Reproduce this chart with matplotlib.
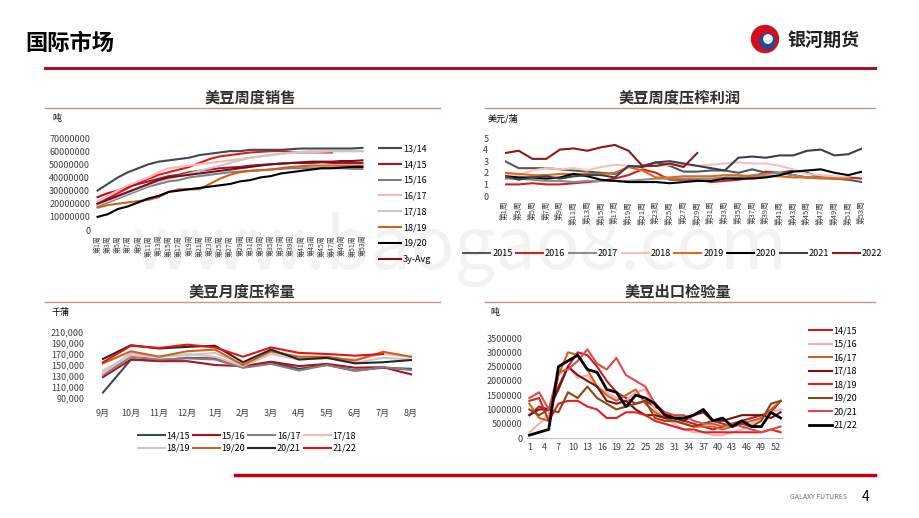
import numpy as np
import matplotlib
matplotlib.use("Agg")
import matplotlib.pyplot as plt
from matplotlib.lines import Line2D
from matplotlib.ticker import FuncFormatter

plt.rcParams["font.family"] = ["Noto Sans CJK SC", "DejaVu Sans"]

# ---- chart 1: weekly sales (cumulative, tonnes), every 2nd week ----
sales_weeks = list(range(1, 54, 2))
sales_labels = ["13/14", "14/15", "15/16", "16/17", "17/18", "18/19", "19/20", "3y-Avg"]
sales_1314 = [30, 35, 40, 44, 47, 50, 52, 53, 54, 55, 57, 58, 59, 60, 60, 61, 61, 61, 61, 61.5, 62, 62, 62, 62, 62, 62, 62.5]
sales_1415 = [25, 28, 30, 33, 35, 37, 39, 41, 42, 44, 45, 46, 47, 47.5, 48, 49, 49.5, 50, 50.5, 51, 51, 51, 51.5, 51, 51, 51, 51]
sales_1516 = [18, 21, 24, 27, 30, 33, 35, 37, 38, 40, 41, 42, 43, 44, 44.5, 45, 45.5, 46, 46.5, 47, 47, 47, 47, 47, 47, 46.5, 46.5]
sales_1617 = [22, 26, 30, 34, 37, 40, 44, 47, 48, 49, 50, 51, 52, 53, 54, 55, 56, 57, 58, 59, 59.5, 60, 60, 60, 60, 60, 60]
sales_1718 = [19, 22, 25, 28, 31, 34, 37, 39, 41, 43, 45, 47, 49, 51, 53, 55, 56, 57, 58, 58.5, 59, 59, 59.5, 60, 60, 60, 60]
sales_1819 = [17, 19, 20, 21, 22, 23, 25, 29, 31, 31, 31, 35, 39, 42, 44, 45, 45.5, 46, 47, 48, 48.5, 49, 49, 49, 49, 49, 49]
sales_1920 = [10, 12, 16, 18, 21, 24, 26, 29, 30, 31, 32, 33, 34, 35, 37, 38, 40, 41, 43, 44, 45, 46, 47, 47, 47.5, 48, 48]
sales_avg = [20, 23, 26, 29, 32, 35, 38, 40, 41, 42, 43, 44, 45, 46, 47, 48, 49, 50, 50.5, 51, 51.5, 52, 52, 52, 52.5, 52.5, 53]
sales_2021 = [20, 24, 28, 32, 36, 39, 42, 44, 46, 48, 51, 54, 56, 57, 58, 59, 59.5, 60, 60, 59.5, 59, 59, 59, 59]
sales_colors = ["#404850", "#B01020", "#808080", "#F4B8B8", "#C8C8C8", "#D06020", "#000000", "#701020"]

# ---- chart 2: weekly crush margin (USD/bu), every 2nd week ----
margin_weeks = list(range(1, 54, 2))
margin_labels = ["2015", "2016", "2017", "2018", "2019", "2020", "2021", "2022"]
m2015 = [3.0, 2.4, 2.4, 2.4, 2.3, 2.2, 2.1, 2.0, 1.9, 2.5, 2.6, 2.9, 2.6, 2.1, 2.1, 2.2, 2.2, 2.0, 2.3, 2.0, 2.0, 2.2, 2.0, 1.6, 1.5, 1.4, 1.2]
m2016 = [1.0, 1.0, 1.1, 1.0, 1.0, 1.1, 1.2, 1.3, 1.5, 1.8, 2.3, 2.0, 1.4, 1.4, 1.4, 1.2, 1.3, 1.4, 1.6, 2.1, 2.0, 1.8, 1.6, 1.6, 1.5, 1.6, 1.5]
m2017 = [1.5, 1.5, 1.4, 1.3, 1.3, 1.2, 1.3, 1.3, 1.3, 1.3, 1.4, 1.5, 1.5, 1.5, 1.5, 1.5, 1.6, 1.6, 1.8, 1.9, 2.0, 1.8, 1.6, 1.6, 1.6, 1.6]
m2018 = [1.8, 1.8, 2.2, 2.4, 2.3, 2.4, 2.2, 2.5, 2.7, 2.6, 2.5, 2.6, 2.7, 2.7, 2.6, 2.7, 2.8, 2.9, 2.8, 2.8, 2.6, 2.3, 1.9, 1.8, 1.7, 1.6]
m2019 = [2.0, 1.9, 1.8, 1.8, 1.9, 1.9, 1.9, 1.9, 2.0, 2.5, 2.2, 1.6, 1.6, 1.7, 1.7, 1.7, 1.8, 1.8, 1.7, 1.7, 1.7, 1.6, 1.6, 1.5, 1.5, 1.5]
m2020 = [1.7, 1.6, 1.6, 1.5, 1.6, 1.9, 1.7, 1.4, 1.3, 1.2, 1.2, 1.2, 1.1, 1.2, 1.3, 1.3, 1.5, 1.5, 1.5, 1.6, 1.8, 2.1, 2.2, 2.3, 2.0, 1.8, 2.1]
m2021 = [1.7, 1.4, 1.6, 1.7, 1.5, 1.7, 1.8, 1.8, 1.6, 2.6, 2.5, 2.9, 3.0, 2.8, 2.6, 2.4, 2.2, 3.3, 3.4, 3.3, 3.5, 3.5, 3.9, 4.0, 3.5, 3.6, 4.1]
m2022 = [3.7, 3.9, 3.2, 3.2, 4.0, 4.1, 3.9, 4.2, 4.4, 3.9, 2.6, 2.6, 2.8, 2.5, 3.7]
margin_colors = ["#505860", "#D42020", "#8C8C8C", "#F6C0C0", "#E06A1A", "#000000", "#3A4048", "#8B1A1A"]

# ---- chart 3: monthly crush (thousand short tons) ----
months = ["9月", "10月", "11月", "12月", "1月", "2月", "3月", "4月", "5月", "6月", "7月", "8月"]
crush_labels = ["14/15", "15/16", "16/17", "17/18", "18/19", "19/20", "20/21", "21/22"]
c1415 = [100, 160, 158, 163, 162, 146, 155, 143, 150, 140, 145, 143]
c1516 = [128, 160, 157, 157, 150, 148, 156, 148, 152, 145, 146, 133]
c1617 = [132, 165, 160, 162, 160, 145, 152, 140, 150, 139, 146, 141]
c1718 = [140, 168, 165, 170, 165, 148, 170, 160, 162, 160, 170, 165]
c1819 = [135, 172, 165, 168, 172, 150, 172, 162, 164, 154, 163, 160]
c1920 = [153, 175, 165, 175, 178, 150, 175, 165, 165, 158, 174, 165]
c2021 = [161, 186, 180, 183, 185, 155, 178, 160, 163, 153, 155, 159]
c2122 = [155, 185, 181, 187, 182, 165, 182, 172, 170, 167, 170]
crush_colors = ["#404850", "#B01020", "#808080", "#F4B8B8", "#C8C8C8", "#D06020", "#252525", "#E81010"]

# ---- chart 4: weekly export inspections (x100000 t), every 2nd week ----
insp_weeks = list(range(1, 54, 2))
insp_labels = ["14/15", "15/16", "16/17", "17/18", "18/19", "19/20", "20/21", "21/22"]
i1415 = [8, 11, 10, 18, 25, 30, 29, 25, 20, 16, 14, 12, 13, 11, 9, 7, 6, 5, 4, 3, 4, 5, 6, 7, 8, 9, 13]
i1516 = [2, 5, 8, 22, 25, 21, 22, 18, 16, 14, 13, 16, 17, 10, 7, 5, 3, 2, 2, 1, 1, 2, 3, 5, 7, 9, 10]
i1617 = [12, 7, 6, 22, 30, 29, 24, 18, 15, 13, 15, 17, 12, 9, 7, 6, 5, 4, 4, 4, 3, 4, 5, 6, 7, 10, 13]
i1718 = [8, 10, 10, 17, 25, 22, 20, 18, 13, 12, 13, 10, 8, 8, 7, 7, 6, 8, 9, 6, 6, 7, 8, 8, 8, 7, 9]
i1819 = [13, 14, 6, 12, 13, 13, 11, 10, 7, 7, 9, 9, 8, 6, 5, 4, 3, 3, 2, 2, 2, 2, 2, 2, 2, 3, 2]
i1920 = [10, 8, 10, 9, 16, 14, 18, 14, 12, 10, 11, 12, 13, 7, 6, 6, 5, 4, 5, 6, 5, 4, 5, 4, 6, 12, 13]
i2021 = [14, 16, 10, 23, 24, 27, 31, 26, 24, 28, 22, 20, 18, 12, 9, 8, 8, 6, 5, 5, 4, 5, 4, 3, 2, 3, 4]
i2122 = [1, 2, 3, 25, 27, 29, 24, 23, 17, 16, 11, 15, 14, 12, 8, 7, 7, 8, 10, 6, 7, 4, 6, 4, 4, 9, 7]
insp_colors = ["#C0202A", "#F4B0B0", "#D06020", "#7A1010", "#E02020", "#8B4513", "#E04848", "#000000"]

TICK = "#404040"
fig = plt.figure(figsize=(9.2, 5.18), dpi=100)
W, H = 920, 518

def ftext(x, y, s, **kw):
    fig.text(x / W, 1 - y / H, s, **kw)

def hline(x0, x1, y, color, lw):
    fig.add_artist(Line2D([x0 / W, x1 / W], [1 - y / H, 1 - y / H], color=color, lw=lw))

# header / frame
ftext(460, 250, "www.baogao8.com", fontsize=52, color="#F2F2F2", ha="center", va="center", zorder=-5)
ftext(25, 44, "国际市场", fontsize=16, fontweight="bold", va="center")
ftext(787, 40, "银河期货", fontsize=13, fontweight="bold", va="center", color="#222222")
logo = fig.add_axes([750 / W, 1 - 54 / H, 30 / W, 30 / H])
logo.add_patch(plt.Circle((0.5, 0.5), 0.45, color="#D01020"))
logo.add_patch(plt.Circle((0.58, 0.42), 0.25, color="#1A4A9A"))
logo.add_patch(plt.Circle((0.6, 0.5), 0.14, color="white"))
logo.set_xlim(0, 1); logo.set_ylim(0, 1); logo.axis("off")
hline(45, 875, 68, "#B01020", 2.2)
hline(235, 875, 475, "#C00010", 2.5)
ftext(790, 497, "GALAXY FUTURES", fontsize=5, color="#707070", va="center")
ftext(862, 497, "4", fontsize=10, va="center")

for x, y, s in [(250, 98, "美豆周度销售"), (680, 98, "美豆周度压榨利润"),
                (242, 292, "美豆月度压榨量"), (678, 292, "美豆出口检验量")]:
    ftext(x, y, s, fontsize=11, fontweight="bold", ha="center", va="center", color="#303030")
for x0, x1, y in [(45, 440, 108), (485, 875, 108), (45, 440, 302), (485, 875, 302)]:
    hline(x0, x1, y, "#C89090", 1.0)
for x, y, s in [(52, 119, "吨"), (488, 119, "美元/蒲"), (52, 312, "千蒲"), (490, 312, "吨")]:
    ftext(x, y, s, fontsize=6.5, va="center")

def clean(ax):
    for s in ax.spines.values():
        s.set_visible(False)
    ax.tick_params(length=0, labelsize=6.5, colors=TICK)
    ax.patch.set_alpha(0)

# chart 1
ax1 = fig.add_axes([95 / W, 1 - 230 / H, 270 / W, 92 / H])
sales = [sales_1314, sales_1415, sales_1516, sales_1617, sales_1718, sales_1819, sales_1920, sales_avg]
ax1.plot(sales_weeks[:len(sales_2021)], np.array(sales_2021) * 1e6, color="#E81818", lw=1.5)
for vals, lab, col in zip(sales, sales_labels, sales_colors):
    ax1.plot(sales_weeks, np.array(vals) * 1e6, color=col, lw=1.5, label=lab)
ax1.set_ylim(0, 70e6)
ax1.set_yticks(np.arange(0, 70e6 + 1, 10e6))
ax1.yaxis.set_major_formatter(FuncFormatter(lambda v, p: f"{int(v)}"))
ax1.set_xlim(0.5, 53.5)
ax1.set_xticks(sales_weeks)
ax1.set_xticklabels([f"第{w}周" for w in sales_weeks], rotation=90)
clean(ax1)
ax1.tick_params(axis="x", labelsize=5)
ax1.legend(loc="upper left", bbox_to_anchor=(1.02, 1.02), frameon=False, fontsize=6.5,
           labelspacing=0.75, handlelength=2.5, handletextpad=0.2)

# chart 2
ax2 = fig.add_axes([505 / W, 1 - 196 / H, 357 / W, 58 / H])
margins = [m2015, m2016, m2017, m2018, m2019, m2020, m2021, m2022]
for vals, lab, col in zip(margins, margin_labels, margin_colors):
    ax2.plot(margin_weeks[:len(vals)], vals, color=col, lw=1.5, label=lab)
ax2.set_ylim(0, 5)
ax2.set_yticks(range(6))
ax2.set_xlim(1, 53)
ax2.set_xticks(margin_weeks)
ax2.set_xticklabels([f"第{w}周" for w in margin_weeks], rotation=90)
clean(ax2)
ax2.tick_params(axis="x", labelsize=5.5)
ax2.tick_params(axis="y", pad=12)
ax2.legend(loc="upper center", bbox_to_anchor=(0.47, -0.78), ncol=8, frameon=False, fontsize=6.5,
           handlelength=3, columnspacing=0.4, handletextpad=0.2)

# chart 3
ax3 = fig.add_axes([89 / W, 1 - 398 / H, 336 / W, 66 / H])
crush = [c1415, c1516, c1617, c1718, c1819, c1920, c2021, c2122]
xm = np.arange(len(months))
lines3 = []
for vals, lab, col in zip(crush, crush_labels, crush_colors):
    ln, = ax3.plot(xm[:len(vals)], np.array(vals) * 1000, color=col, lw=1.5, label=lab)
    lines3.append(ln)
ax3.set_ylim(90000, 210000)
ax3.set_yticks(range(90000, 210001, 20000))
ax3.yaxis.set_major_formatter(FuncFormatter(lambda v, p: f"{int(v):,}"))
ax3.set_xlim(-0.5, 11.5)
ax3.set_xticks(xm)
ax3.set_xticklabels(months)
clean(ax3)
ax3.tick_params(axis="x", pad=8)
order = [0, 4, 1, 5, 2, 6, 3, 7]  # row-major legend with ncol=4
ax3.legend([lines3[i] for i in order], [crush_labels[i] for i in order],
           loc="upper center", bbox_to_anchor=(0.47, -0.38), ncol=4, frameon=False, fontsize=6.5,
           handlelength=3, columnspacing=0.3, handletextpad=0.2, labelspacing=0.4)

# chart 4
ax4 = fig.add_axes([527 / W, 1 - 438 / H, 256 / W, 100 / H])
insp = [i1415, i1516, i1617, i1718, i1819, i1920, i2021, i2122]
for vals, lab, col in zip(insp, insp_labels, insp_colors):
    lw = 2 if lab == "21/22" else 1.5
    ax4.plot(insp_weeks[:len(vals)], np.array(vals) * 1e5, color=col, lw=lw, label=lab)
ax4.set_ylim(0, 3500000)
ax4.set_yticks(range(0, 3500001, 500000))
ax4.yaxis.set_major_formatter(FuncFormatter(lambda v, p: f"{int(v)}"))
ax4.set_xlim(0.5, 53.5)
ax4.set_xticks(range(1, 53, 3))
clean(ax4)
ax4.spines["bottom"].set_visible(True)
ax4.spines["bottom"].set_color("#C0C0C0")
ax4.legend(loc="center left", bbox_to_anchor=(1.07, 0.6), frameon=False, fontsize=6.5,
           labelspacing=0.5, handlelength=2.5, handletextpad=0.2)

fig.savefig("out.png", dpi=100)
